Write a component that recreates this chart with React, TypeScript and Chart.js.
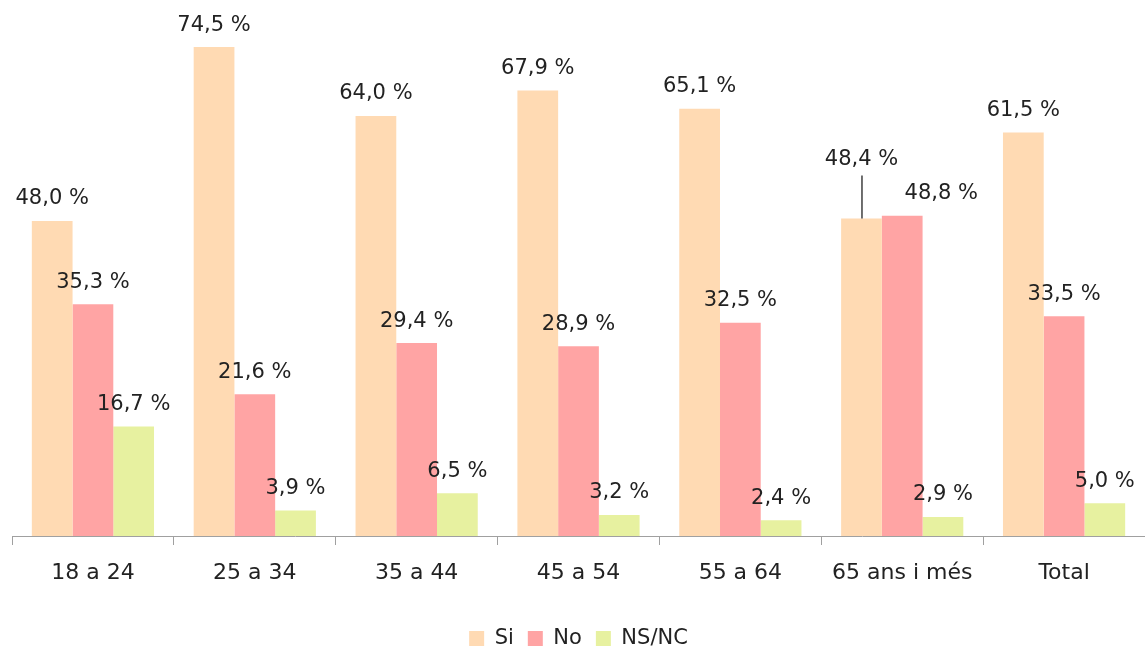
import React, { useEffect, useRef } from "react";
import { Chart, registerables } from "chart.js";

Chart.register(...registerables);

const categories = ["18 a 24", "25 a 34", "35 a 44", "45 a 54", "55 a 64", "65 ans i més", "Total"];
const siValues = [48.0, 74.5, 64.0, 67.9, 65.1, 48.4, 61.5];
const noValues = [35.3, 21.6, 29.4, 28.9, 32.5, 48.8, 33.5];
const nsValues = [16.7, 3.9, 6.5, 3.2, 2.4, 2.9, 5.0];
const seriesNames = ["Si", "No", "NS/NC"];
const seriesColors = ["#FFDAB3", "#FFA4A4", "#E7F1A0"];

const FONT = "'DejaVu Sans', sans-serif";

const labelPlugin = {
  id: "valueLabels",
  afterDatasetsDraw(chart: any) {
    const ctx = chart.ctx;
    ctx.save();
    ctx.font = `21px ${FONT}`;
    ctx.fillStyle = "#222";
    ctx.textAlign = "center";
    ctx.textBaseline = "middle";
    chart.data.datasets.forEach((ds: any, di: number) => {
      const meta = chart.getDatasetMeta(di);
      meta.data.forEach((bar: any, i: number) => {
        const v = ds.data[i] as number;
        const txt = v.toFixed(1).replace(".", ",") + " %";
        let x = bar.x;
        let y = bar.y - 22;
        if (i === 5 && di === 0) {
          y = bar.y - 59;
          ctx.strokeStyle = "#222";
          ctx.lineWidth = 1.3;
          ctx.beginPath();
          ctx.moveTo(x + 0.5, y + 16);
          ctx.lineTo(x + 0.5, bar.y);
          ctx.stroke();
        }
        if (i === 5 && di === 1) {
          x = bar.x + 39;
        }
        ctx.fillText(txt, x, y);
      });
    });
    ctx.restore();
  },
};

export default function App() {
  const ref = useRef<HTMLCanvasElement>(null);
  useEffect(() => {
    const chart = new Chart(ref.current!, {
      type: "bar",
      data: {
        labels: categories,
        datasets: [siValues, noValues, nsValues].map((d, k) => ({
          label: seriesNames[k],
          data: d,
          backgroundColor: seriesColors[k],
          borderWidth: 0,
          barPercentage: 1,
          categoryPercentage: 0.755,
        })),
      },
      options: {
        animation: false,
        responsive: false,
        maintainAspectRatio: false,
        layout: { padding: { left: 12, right: 0, top: 11, bottom: -10 } },
        plugins: {
          tooltip: { enabled: false },
          legend: {
            position: "bottom",
            labels: {
              font: { family: FONT, size: 21 },
              color: "#222",
              boxWidth: 15,
              boxHeight: 15,
              padding: 14,
            },
          },
        },
        scales: {
          x: {
            grid: { display: true, drawOnChartArea: false, tickLength: 9, color: "#A0A0A0" },
            border: { color: "#A0A0A0" },
            ticks: { font: { family: FONT, size: 22 }, color: "#222", padding: 15 },
            afterFit: (scale: any) => {
              scale.height = 78;
            },
          },
          y: {
            display: false,
            min: 0,
            max: 80,
          },
        },
      },
      plugins: [labelPlugin],
    });
    return () => chart.destroy();
  }, []);
  return (
    <div style={{ position: "absolute", left: 0, top: 0, width: 1145, height: 649, background: "#fff" }}>
      <canvas ref={ref} width={1145} height={649} />
    </div>
  );
}
